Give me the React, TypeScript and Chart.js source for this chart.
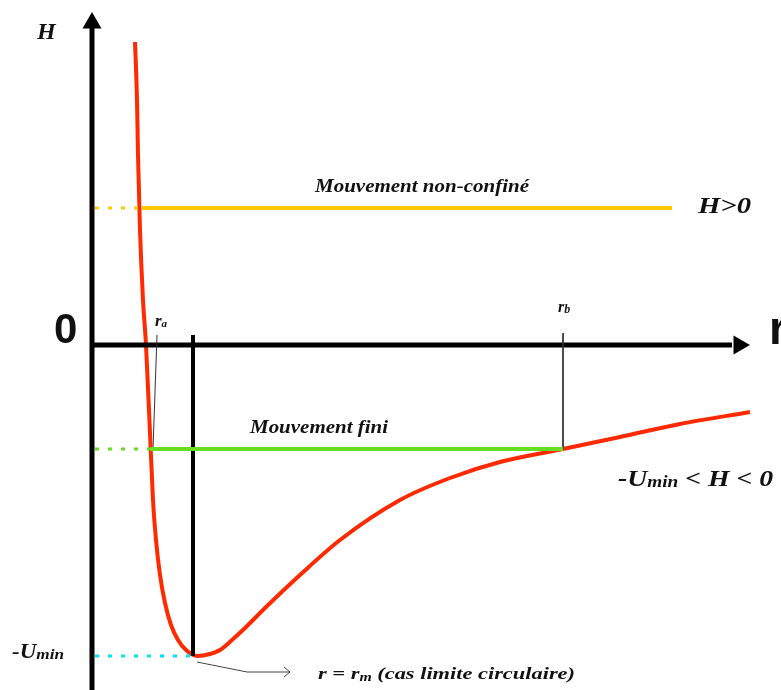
import { useEffect, useRef } from "react";
import { Chart, registerables } from "chart.js";

Chart.register(...registerables);

// Effective potential curve U(r) (r, H in arbitrary units)
const curveR = [0.43, 0.45, 0.46, 0.48, 0.51, 0.54, 0.58, 0.61, 0.64, 0.68, 0.73, 0.79, 0.86, 0.94, 1.05, 1.18, 1.28, 1.4, 1.53, 1.73, 2.08, 2.48, 3.08, 3.58, 4.08, 4.71, 5.28, 5.88, 6.58];
const curveH = [3.03, 2.45, 1.9, 1.15, 0.45, 0.0, -0.88, -1.55, -1.95, -2.3, -2.58, -2.8, -2.95, -3.05, -3.11, -3.09, -3.05, -2.95, -2.83, -2.63, -2.3, -1.95, -1.55, -1.33, -1.17, -1.04, -0.92, -0.79, -0.67];

// Energy levels
const hUnbound = 1.37; // H > 0
const hBound = -1.04; // -Umin < H < 0
const uMin = -3.11; // -Umin

// Turning points and radii
const rA = 0.59;
const rB = 4.71;
const rMinCurve = 1.05;
const rMLine = 1.01;
const unboundEnd = 5.8;

// Axes extents
const axisTop = 3.22;
const axisBottom = -3.45;
const axisRight = 6.4;
const arrowX = 6.47;

const xMin = -0.92;
const xMax = 6.89;
const yMin = -3.45;
const yMax = 3.45;

const ink = "#111111";
const serif = '"Liberation Serif", "DejaVu Serif", serif';
const sans = '"Liberation Sans", Arial, sans-serif';

type Part = { t: string; size: number; dy?: number };
type TextItem = {
  x: number;
  y: number;
  parts: Part[];
  family: string;
  style: string;
  width?: number;
};

const textItems: TextItem[] = [
  { x: -0.55, y: 3.06, parts: [{ t: "H", size: 24 }], family: serif, style: "italic bold" },
  { x: -0.38, y: 0.02, parts: [{ t: "0", size: 42 }], family: sans, style: "bold" },
  { x: 6.77, y: 0.01, parts: [{ t: "r", size: 46 }], family: sans, style: "bold" },
  { x: 0.63, y: 0.19, parts: [{ t: "r", size: 17 }, { t: "a", size: 11, dy: 1 }], family: serif, style: "italic bold" },
  { x: 4.66, y: 0.33, parts: [{ t: "r", size: 16 }, { t: "b", size: 12, dy: 1 }], family: serif, style: "italic bold" },
  { x: 2.23, y: 1.53, parts: [{ t: "Mouvement non-confiné", size: 18 }], family: serif, style: "italic bold", width: 214 },
  { x: 6.06, y: 1.32, parts: [{ t: "H>0", size: 23 }], family: serif, style: "italic bold", width: 53 },
  { x: 1.58, y: -0.88, parts: [{ t: "Mouvement fini", size: 18 }], family: serif, style: "italic bold", width: 138 },
  { x: 5.26, y: -1.41, parts: [{ t: "-U", size: 23 }, { t: "min", size: 16, dy: 1 }, { t: " < H < 0", size: 23 }], family: serif, style: "italic bold", width: 155 },
  { x: -0.8, y: -3.13, parts: [{ t: "-U", size: 20 }, { t: "min", size: 15, dy: 1 }], family: serif, style: "italic bold", width: 52 },
  { x: 2.26, y: -3.34, parts: [{ t: "r = r", size: 17 }, { t: "m", size: 12, dy: 2 }, { t: " (cas limite circulaire)", size: 17 }], family: serif, style: "italic bold", width: 257 },
];

const textPlugin = {
  id: "diagramText",
  afterDatasetsDraw(chart: any) {
    const { ctx, scales } = chart;
    for (const item of textItems) {
      const px = scales.x.getPixelForValue(item.x);
      const py = scales.y.getPixelForValue(item.y);
      ctx.save();
      ctx.textBaseline = "alphabetic";
      ctx.textAlign = "left";
      const widths = item.parts.map((p) => {
        ctx.font = `${item.style} ${p.size}px ${item.family}`;
        return ctx.measureText(p.t).width;
      });
      const total = widths.reduce((a, b) => a + b, 0);
      const k = item.width ? item.width / total : 1;
      ctx.translate(px, py);
      ctx.scale(k, 1);
      ctx.fillStyle = ink;
      let cx = 0;
      item.parts.forEach((p, i) => {
        ctx.font = `${item.style} ${p.size}px ${item.family}`;
        ctx.fillText(p.t, cx, p.dy || 0);
        cx += widths[i];
      });
      ctx.restore();
    }
  },
};

const seg = (x1: number, y1: number, x2: number, y2: number) => [
  { x: x1, y: y1 },
  { x: x2, y: y2 },
];

export default function App() {
  const ref = useRef<HTMLCanvasElement | null>(null);

  useEffect(() => {
    if (!ref.current) return;
    const curve = curveR.map((r, i) => ({ x: r, y: curveH[i] }));
    const line = (data: any[], color: string, width: number, extra: any = {}) => ({
      data,
      borderColor: color,
      backgroundColor: color,
      borderWidth: width,
      pointRadius: 0,
      fill: false,
      tension: 0,
      ...extra,
    });

    const chart = new Chart(ref.current, {
      type: "line",
      data: {
        datasets: [
          // dotted guides to the H axis
          line(seg(0.03, hUnbound, 0.48, hUnbound), "#ffc800", 3, { borderDash: [4, 9] }),
          line(seg(0.03, hBound, rA, hBound), "#66dd22", 3, { borderDash: [4, 9] }),
          line(seg(0.03, uMin, rMinCurve, uMin), "#00e5ee", 3, { borderDash: [4, 9] }),
          // energy levels
          line(seg(0.5, hUnbound, unboundEnd, hUnbound), "#ffc800", 4),
          line(seg(rA, hBound, rB, hBound), "#66dd22", 4),
          // ra, rb markers
          line(seg(0.65, 0.1, 0.61, hBound), "#333333", 1),
          line(seg(rB, 0.12, rB, hBound), "#333333", 1),
          // r = rm arrow
          line([{ x: 1.05, y: -3.17 }, { x: 1.55, y: -3.27 }, { x: 1.98, y: -3.27 }], "#444444", 1),
          line([{ x: 1.92, y: -3.22 }, { x: 1.98, y: -3.27 }, { x: 1.92, y: -3.32 }], "#444444", 1),
          // axes
          line(seg(0, axisBottom, 0, axisTop), "#000000", 5),
          line(seg(0, 0, axisRight, 0), "#000000", 5),
          line([{ x: 0, y: 3.22 }], "#000000", 0, { showLine: false, pointStyle: "triangle", pointRadius: 11, rotation: 0 }),
          line([{ x: arrowX, y: 0 }], "#000000", 0, { showLine: false, pointStyle: "triangle", pointRadius: 11, rotation: 90 }),
          // rm line
          line(seg(rMLine, 0.1, rMLine, uMin), "#000000", 4),
          // potential curve
          line(curve, "#ff2a00", 4, { cubicInterpolationMode: "monotone" }),
        ],
      },
      options: {
        animation: false,
        responsive: false,
        maintainAspectRatio: false,
        layout: { padding: 0, autoPadding: false },
        plugins: { legend: { display: false }, tooltip: { enabled: false } },
        scales: {
          x: { type: "linear", display: false, min: xMin, max: xMax },
          y: { type: "linear", display: false, min: yMin, max: yMax },
        },
      },
      plugins: [textPlugin],
    });
    return () => chart.destroy();
  }, []);

  return (
    <div style={{ position: "fixed", left: 0, top: 0, width: 781, height: 690, background: "#ffffff" }}>
      <canvas ref={ref} width={781} height={690} style={{ display: "block" }} />
    </div>
  );
}
